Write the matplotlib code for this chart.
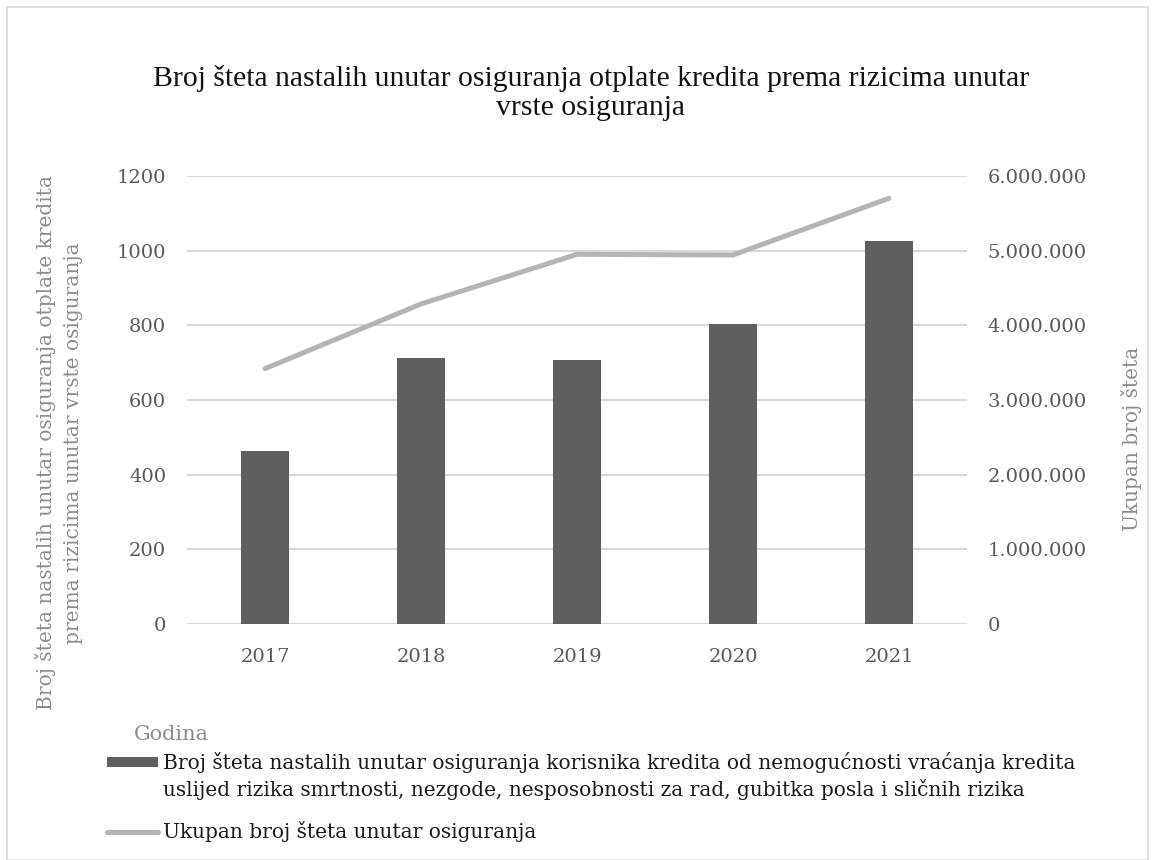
import numpy as np
import matplotlib.pyplot as plt
from matplotlib.patches import Rectangle
from matplotlib.ticker import FuncFormatter

years = ['2017', '2018', '2019', '2020', '2021']
steta_rizici = [464, 713, 706, 803, 1027]
ukupno_steta = [3420000, 4286000, 4951000, 4942000, 5701000]

bar_label = ('Broj šteta nastalih unutar osiguranja korisnika kredita od nemogućnosti vraćanja kredita\n'
             'uslijed rizika smrtnosti, nezgode, nesposobnosti za rad, gubitka posla i sličnih rizika')
line_label = 'Ukupan broj šteta unutar osiguranja'

plt.rcParams['font.family'] = ['DejaVu Serif']

W, H = 1155, 860
fig = plt.figure(figsize=(W / 100, H / 100), dpi=100)
fig.patches.append(Rectangle((7 / W, 0), 1 - 14 / W, 1 - 7 / H, transform=fig.transFigure,
                             fill=False, edgecolor='#d9d9d9', lw=1.2))

ax = fig.add_axes([187 / W, 1 - 624 / H, 780 / W, 448 / H])
ax2 = ax.twinx()

x = np.arange(len(years))
bars = ax.bar(x, steta_rizici, width=0.31, color='#5f5f5f', zorder=2)
line, = ax2.plot(x, ukupno_steta, color='#b4b4b4', lw=3.6, solid_capstyle='round', zorder=3)

ax.set_xlim(-0.5, 4.5)
ax.set_ylim(0, 1200)
ax.set_yticks(range(0, 1201, 200))
ax2.set_ylim(0, 6000000)
ax2.set_yticks(range(0, 6000001, 1000000))
ax2.yaxis.set_major_formatter(FuncFormatter(lambda v, p: f'{int(v):,}'.replace(',', '.')))
ax.set_xticks(x)
ax.set_xticklabels(years)
ax.grid(axis='y', color='#d9d9d9', lw=1.5, zorder=0)
ax.set_axisbelow(True)
for a in (ax, ax2):
    for s in a.spines.values():
        s.set_visible(False)
    a.tick_params(length=0, labelsize=14, labelcolor='#595959')
ax.tick_params(axis='y', pad=15)
ax.tick_params(axis='x', pad=17)
ax2.tick_params(axis='y', pad=15)

fig.text(591 / W, 1 - 93 / H, 'Broj šteta nastalih unutar osiguranja otplate kredita prema rizicima unutar\nvrste osiguranja',
         family='Liberation Serif', fontsize=21.3, color='#111111', ha='center', va='center', linespacing=1.12)

fig.text(59 / W, 1 - 443 / H, 'Broj šteta nastalih unutar osiguranja otplate kredita\nprema rizicima unutar vrste osiguranja',
         rotation=90, fontsize=14.5, color='#8c8c8c', ha='center', va='center', linespacing=1.55)
fig.text(1132 / W, 1 - 439 / H, 'Ukupan broj šteta', rotation=90, fontsize=14.5, color='#8c8c8c',
         ha='center', va='center')
fig.text(134 / W, 1 - 734 / H, 'Godina', fontsize=15, color='#8c8c8c', ha='left', va='center')

leg = fig.legend([bars, line], [bar_label, line_label], loc='upper left',
                 bbox_to_anchor=(107 / W, 1 - 752 / H), frameon=False, fontsize=14.5,
                 handlelength=2.55, handleheight=0.4, handletextpad=0.25, labelspacing=1.05,
                 borderpad=0, borderaxespad=0, labelcolor='#1a1a1a')
for t in leg.get_texts():
    t.set_linespacing(1.35)
# keep the bar swatch level with the first text line, as in the reference
h = leg.legend_handles[0]
h.set_y(h.get_y() + 10)

fig.savefig('out.png', dpi=100)
